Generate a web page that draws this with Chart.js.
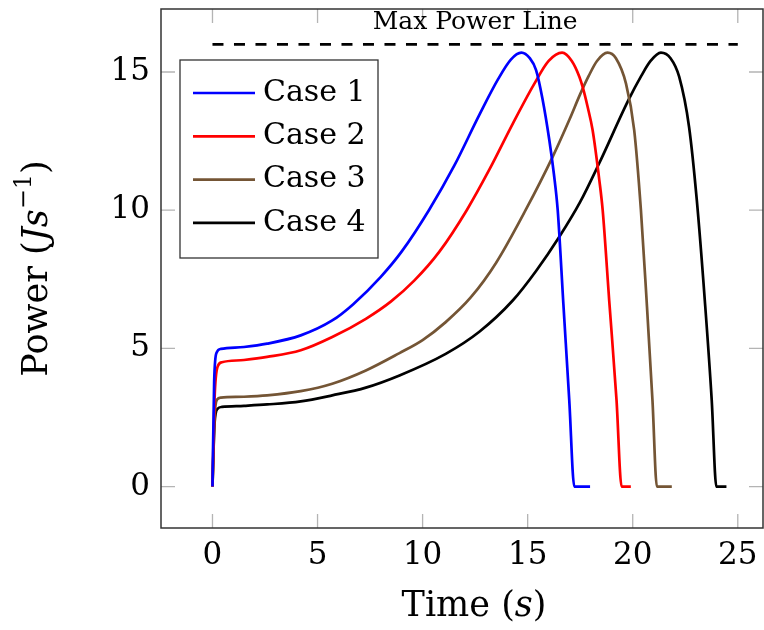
<!DOCTYPE html>
<html>
<head>
<meta charset="utf-8">
<script src="https://cdn.jsdelivr.net/npm/chart.js@4.4.0/dist/chart.umd.min.js"></script>
<style>
  html, body { margin: 0; padding: 0; background: #ffffff; }
  #wrap { width: 764px; height: 630px; }
</style>
</head>
<body>
<div id="wrap"><canvas id="graficoPotencia"></canvas></div>
<script>
// dados
const caseLabels = ['Case 1', 'Case 2', 'Case 3', 'Case 4'];
const caseColors = ['#0000ff', '#ff0000', '#745535', '#000000'];

const case1Time  = [0, 0.08, 0.2, 0.4, 1.5, 2.6, 4.2, 5.7, 6.7, 8.0, 9.0, 10.3, 11.5, 12.7, 13.6, 14.2, 14.7, 15.1, 15.4, 15.7, 16.03, 16.25, 16.43, 16.7, 16.98, 17.22, 17.97];
const case1Power = [0, 3.8, 4.85, 4.98, 5.05, 5.17, 5.47, 6.01, 6.6, 7.58, 8.5, 10.0, 11.6, 13.45, 14.75, 15.45, 15.7, 15.5, 15.07, 14.05, 12.54, 11.3, 10.0, 6.6, 3.12, 0, 0];

const case2Time  = [0, 0.1, 0.25, 0.45, 1.5, 2.6, 4.2, 5.7, 7.3, 8.5, 9.6, 10.8, 12.1, 13.2, 14.3, 15.3, 16.0, 16.64, 17.1, 17.46, 17.62, 17.85, 18.09, 18.41, 18.57, 18.88, 19.23, 19.47, 19.91];
const case2Power = [0, 3.2, 4.35, 4.5, 4.58, 4.69, 4.93, 5.41, 6.07, 6.7, 7.45, 8.5, 10.0, 11.5, 13.14, 14.55, 15.4, 15.7, 15.4, 14.83, 14.45, 13.75, 12.9, 11.09, 10.0, 6.74, 3.12, 0, 0];

const case3Time  = [0, 0.1, 0.22, 0.4, 1.5, 2.6, 4.2, 5.7, 7.3, 8.9, 10.0, 11.1, 12.3, 13.5, 14.9, 16.2, 17.0, 17.5, 17.9, 18.3, 18.8, 19.2, 19.68, 20.07, 20.39, 20.66, 20.94, 21.15, 21.86];
const case3Power = [0, 2.5, 3.15, 3.22, 3.25, 3.3, 3.45, 3.72, 4.2, 4.83, 5.3, 5.95, 6.85, 8.1, 10.0, 11.95, 13.3, 14.2, 14.85, 15.4, 15.7, 15.5, 14.58, 12.9, 10.0, 6.74, 3.12, 0, 0];

const case4Time  = [0, 0.1, 0.25, 0.45, 1.5, 2.6, 4.2, 5.7, 7.3, 8.9, 11.1, 12.7, 14.3, 15.4, 16.5, 17.5, 18.4, 19.8, 20.4, 20.85, 21.34, 21.8, 22.21, 22.68, 23.05, 23.43, 23.76, 23.98, 24.46];
const case4Power = [0, 2.3, 2.82, 2.88, 2.92, 2.97, 3.08, 3.3, 3.58, 4.02, 4.8, 5.6, 6.74, 7.8, 9.03, 10.3, 11.69, 13.99, 14.85, 15.4, 15.7, 15.5, 14.83, 13.02, 10.36, 6.74, 3.12, 0, 0];

const maxPowerTime  = [0, 25];
const maxPowerValue = [16, 16];
const maxPowerLabel = 'Max Power Line';

const xTickValues = [0, 5, 10, 15, 20, 25];
const yTickValues = [0, 5, 10, 15];

const fonteBase = "'DejaVu Serif', 'Liberation Serif', serif";

const juntar = (tempos, valores) => tempos.map((t, i) => ({ x: t, y: valores[i] }));

const casos = [
    [case1Time, case1Power],
    [case2Time, case2Power],
    [case3Time, case3Power],
    [case4Time, case4Power]
];

const datasets = casos.map((c, i) => ({
    label: caseLabels[i],
    data: juntar(c[0], c[1]),
    borderColor: caseColors[i],
    borderWidth: 2.7,
    pointRadius: 0,
    cubicInterpolationMode: 'monotone',
    fill: false
}));

datasets.push({
    label: maxPowerLabel,
    data: juntar(maxPowerTime, maxPowerValue),
    borderColor: '#000000',
    borderWidth: 2.7,
    borderDash: [11, 10.5],
    pointRadius: 0,
    fill: false
});

// desenha texto com partes em itálico, centrado
const desenhaPartes = (ctx, partes, cx, cy) => {
    let total = 0;
    partes.forEach(p => { ctx.font = p.font; total += ctx.measureText(p.t).width; });
    let x = cx - total / 2;
    partes.forEach(p => {
        ctx.font = p.font;
        ctx.fillText(p.t, x, cy + (p.dy || 0));
        x += ctx.measureText(p.t).width;
    });
};

const molduraPlugin = {
    id: 'moldura',
    afterDraw(chart) {
        const { ctx, chartArea: a, scales } = chart;
        const xs = scales.x, ys = scales.y;
        ctx.save();

        // marcas internas
        ctx.strokeStyle = '#b4b4b4';
        ctx.lineWidth = 1.3;
        const tl = 14;
        xTickValues.forEach(v => {
            const px = xs.getPixelForValue(v);
            ctx.beginPath();
            ctx.moveTo(px, a.bottom); ctx.lineTo(px, a.bottom - tl);
            ctx.moveTo(px, a.top); ctx.lineTo(px, a.top + tl);
            ctx.stroke();
        });
        yTickValues.forEach(v => {
            const py = ys.getPixelForValue(v);
            ctx.beginPath();
            ctx.moveTo(a.left, py); ctx.lineTo(a.left + tl, py);
            ctx.moveTo(a.right, py); ctx.lineTo(a.right - tl, py);
            ctx.stroke();
        });

        // moldura
        ctx.strokeStyle = '#333333';
        ctx.lineWidth = 1.5;
        ctx.strokeRect(a.left, a.top, a.right - a.left, a.bottom - a.top);

        // rótulo da linha de potência máxima
        ctx.fillStyle = '#000000';
        ctx.textAlign = 'center';
        ctx.textBaseline = 'middle';
        ctx.font = "25px " + fonteBase;
        const mx = xs.getPixelForValue((maxPowerTime[0] + maxPowerTime[1]) / 2);
        ctx.fillText(maxPowerLabel, mx, ys.getPixelForValue(maxPowerValue[0]) - 22);

        // legenda
        const lx = 180, ly = 60, lw = 198, lh = 198;
        ctx.fillStyle = '#ffffff';
        ctx.fillRect(lx, ly, lw, lh);
        ctx.strokeStyle = '#333333';
        ctx.lineWidth = 1.3;
        ctx.strokeRect(lx, ly, lw, lh);
        ctx.textAlign = 'left';
        ctx.font = "30px " + fonteBase;
        chart.data.datasets.slice(0, 4).forEach((ds, i) => {
            const yy = 93 + i * 43.3;
            ctx.strokeStyle = ds.borderColor;
            ctx.lineWidth = 2.7;
            ctx.beginPath();
            ctx.moveTo(193, yy); ctx.lineTo(255, yy);
            ctx.stroke();
            ctx.fillStyle = '#000000';
            ctx.fillText(ds.label, 263, yy);
        });

        // títulos dos eixos
        const normal = "35px " + fonteBase;
        const italico = "italic 35px " + fonteBase;
        const pequeno = "24px " + fonteBase;
        ctx.textAlign = 'left';
        ctx.fillStyle = '#000000';
        desenhaPartes(ctx, [
            { t: 'Time (', font: normal },
            { t: 's', font: italico },
            { t: ')', font: normal }
        ], (a.left + a.right) / 2 + 12, 607);

        ctx.translate(38, (a.top + a.bottom) / 2);
        ctx.rotate(-Math.PI / 2);
        desenhaPartes(ctx, [
            { t: 'Power (', font: normal },
            { t: 'Js', font: italico },
            { t: '\u22121', font: pequeno, dy: -13 },
            { t: ')', font: normal }
        ], 0, 0);

        ctx.restore();
    }
};

document.addEventListener('DOMContentLoaded', () => {
    const ctxPotencia = document.getElementById('graficoPotencia');
    new Chart(ctxPotencia, {
        type: 'line',
        data: { datasets: datasets },
        plugins: [molduraPlugin],
        options: {
            responsive: true,
            maintainAspectRatio: false,
            animation: false,
            layout: { padding: { top: 9, right: 1, left: 0, bottom: 0 } },
            plugins: {
                legend: { display: false },
                tooltip: { enabled: false }
            },
            scales: {
                x: {
                    type: 'linear',
                    min: -2.45,
                    max: 26.2,
                    grid: { display: false, drawTicks: false },
                    border: { display: false },
                    afterBuildTicks: (s) => { s.ticks = xTickValues.map(v => ({ value: v })); },
                    afterFit: (s) => {
                        s.height = 102;
                        s.paddingLeft = 0; s.paddingRight = 0;
                    },
                    ticks: {
                        color: '#000000',
                        padding: 9,
                        maxRotation: 0,
                        font: { family: fonteBase, size: 31 }
                    }
                },
                y: {
                    type: 'linear',
                    min: -1.5,
                    max: 17.28,
                    grid: { display: false, drawTicks: false },
                    border: { display: false },
                    afterBuildTicks: (s) => { s.ticks = yTickValues.map(v => ({ value: v })); },
                    afterFit: (s) => {
                        s.width = 161;
                        s.paddingTop = 0; s.paddingBottom = 0;
                    },
                    ticks: {
                        color: '#000000',
                        padding: 11,
                        font: { family: fonteBase, size: 31 }
                    }
                }
            }
        }
    });
});
</script>
</body>
</html>
